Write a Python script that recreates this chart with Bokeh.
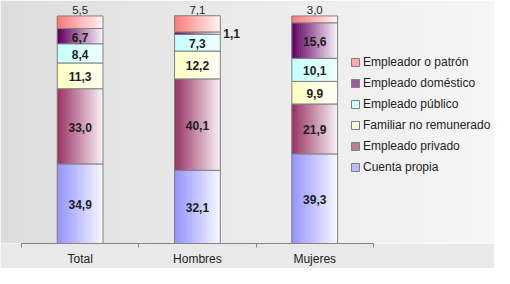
import numpy as np
from bokeh.plotting import figure
from bokeh.models import ColumnDataSource, FixedTicker, Legend, LegendItem, Range1d
from bokeh.embed import file_html
from bokeh.resources import INLINE
from bokeh.core.properties import value

# ---------------- data ----------------
categories = ["Total", "Hombres", "Mujeres"]
series = ["Cuenta propia", "Empleado privado", "Familiar no remunerado",
          "Empleado público", "Empleado doméstico", "Empleador o patrón"]
cuenta_propia = [34.9, 32.1, 39.3]
empleado_privado = [33.0, 40.1, 21.9]
familiar_no_remunerado = [11.3, 12.2, 9.9]
empleado_publico = [8.4, 7.3, 10.1]
empleado_domestico = [6.7, 1.1, 15.6]
empleador_patron = [5.5, 7.1, 3.0]
values = [cuenta_propia, empleado_privado, familiar_no_remunerado,
          empleado_publico, empleado_domestico, empleador_patron]

# ---------------- style ----------------
grad = {  # (left colour, right colour) of each horizontal gradient
    "Cuenta propia": ("#9494ff", "#f6f6ff"),
    "Empleado privado": ("#993366", "#f6eef2"),
    "Familiar no remunerado": ("#ffffc4", "#fffff4"),
    "Empleado público": ("#c4ffff", "#f0ffff"),
    "Empleado doméstico": ("#600060", "#f6eef6"),
    "Empleador o patrón": ("#ff7a7a", "#fff2f2"),
}
FONT = "Liberation Sans"
W = 0.39          # bar width in category units
N = 24            # strips per bar for the gradient
PX_X = 117.3      # pixels per category
X0 = 21           # pixel of first category boundary
W_FIG, H_FIG = 494, 268
FRAME_H = 243     # expected frame height (figure height minus axis)
TOP_PX = 15       # pixel row of 100 %
PX_Y = (FRAME_H - TOP_PX) / 100.0


def hex2rgb(h):
    h = h.lstrip("#")
    return np.array([int(h[i:i + 2], 16) for i in (0, 2, 4)], dtype=float)


def mix(c0, c1, t):
    c = hex2rgb(c0) * (1 - t) + hex2rgb(c1) * t
    return "#%02x%02x%02x" % tuple(int(round(v)) for v in c)


p = figure(width=W_FIG, height=H_FIG, output_backend="svg", toolbar_location=None,
           x_range=Range1d(-X0 / PX_X, (W_FIG - X0) / PX_X),
           y_range=Range1d(0, FRAME_H / PX_Y),
           y_axis_location=None, min_border_left=0, min_border_right=0,
           min_border_top=0, min_border_bottom=0)
p.grid.visible = False
p.outline_line_color = None
p.border_fill_color = "#e9e9e9"

# background gradient
M = 256
bg = np.zeros((1, M), dtype=np.uint32)
view = bg.view(dtype=np.uint8).reshape((1, M, 4))
t = np.linspace(0, 1, M) ** 0.8
g = (220 + (246 - 220) * t).astype(np.uint8)
view[0, :, 0] = g
view[0, :, 1] = g
view[0, :, 2] = g
view[0, :, 3] = 255
p.image_rgba(image=[bg], x=p.x_range.start, y=0,
             dw=p.x_range.end - p.x_range.start, dh=p.y_range.end, level="image")

centers = [i + 0.5 for i in range(len(categories))]
bottoms = [0.0] * len(categories)
legend_items = []
lab = {k: [] for k in ("x", "y", "t", "a", "bl", "xo", "yo", "fw", "fs")}

mid_k = int(N * 0.4)
k_order = [mid_k] + [k for k in range(N) if k != mid_k]

for si, (name, vals) in enumerate(zip(series, values)):
    c0, c1 = grad[name]
    tops = [b + v for b, v in zip(bottoms, vals)]
    xs, ws, bs, ts, cs = [], [], [], [], []
    for k in k_order:
        for ci, cx in enumerate(centers):
            xs.append(cx - W / 2 + (k + 0.5) * W / N)
            ws.append(W / N * 1.35)
            bs.append(bottoms[ci])
            ts.append(tops[ci])
            cs.append(mix(c0, c1, k / (N - 1)))
    src = ColumnDataSource(dict(x=xs, w=ws, b=bs, t=ts, c=cs))
    r_fill = p.vbar(x="x", width="w", bottom="b", top="t", fill_color="c",
                    line_color=None, source=src)
    r_line = p.vbar(x=centers, width=W, bottom=bottoms, top=tops,
                    fill_color=None, line_color="#808080", line_width=1)
    legend_items.append(LegendItem(label=name, renderers=[r_fill, r_line]))

    for ci, cx in enumerate(centers):
        v = vals[ci]
        lab["t"].append(f"{v:.1f}".replace(".", ","))
        if si == len(series) - 1:
            row = (cx, tops[ci], "center", "bottom", 0, -2, "normal", "11.5px")
        elif v < 2:
            row = (cx + W / 2, (bottoms[ci] + tops[ci]) / 2, "left", "middle",
                   3, 0, "bold", "12px")
        else:
            row = (cx, (bottoms[ci] + tops[ci]) / 2, "center", "middle",
                   0, 1, "bold", "12px")
        for key, val in zip(("x", "y", "a", "bl", "xo", "yo", "fw", "fs"), row):
            lab[key].append(val)
    bottoms = tops

lsrc = ColumnDataSource(lab)
p.text(x="x", y="y", text="t", text_align="a", text_baseline="bl",
       x_offset="xo", y_offset="yo", text_font_style="fw", text_font_size="fs",
       text_font=value(FONT), text_color="#1e1e1e", source=lsrc)

# x axis
ax = p.xaxis[0]
ax.ticker = FixedTicker(ticks=centers, minor_ticks=list(range(len(categories) + 1)))
ax.major_label_overrides = {c: n for c, n in zip(centers, categories)}
ax.bounds = (0, len(categories))
ax.axis_line_color = "#858585"
ax.major_tick_line_color = None
ax.minor_tick_line_color = "#858585"
ax.minor_tick_out = 4
ax.minor_tick_in = 0
ax.major_label_standoff = 2
ax.major_label_text_font = FONT
ax.major_label_text_font_size = "12px"
ax.major_label_text_color = "#222222"

legend = Legend(items=list(reversed(legend_items)), location=(350, 66),
                glyph_width=10, glyph_height=10, label_standoff=3,
                label_height=20, spacing=1, padding=0, margin=0,
                label_text_font=FONT, label_text_font_size="12px",
                label_text_color="#222222", background_fill_alpha=0,
                border_line_color=None)
p.add_layout(legend)

open("out.html", "w").write(file_html(p, INLINE))
